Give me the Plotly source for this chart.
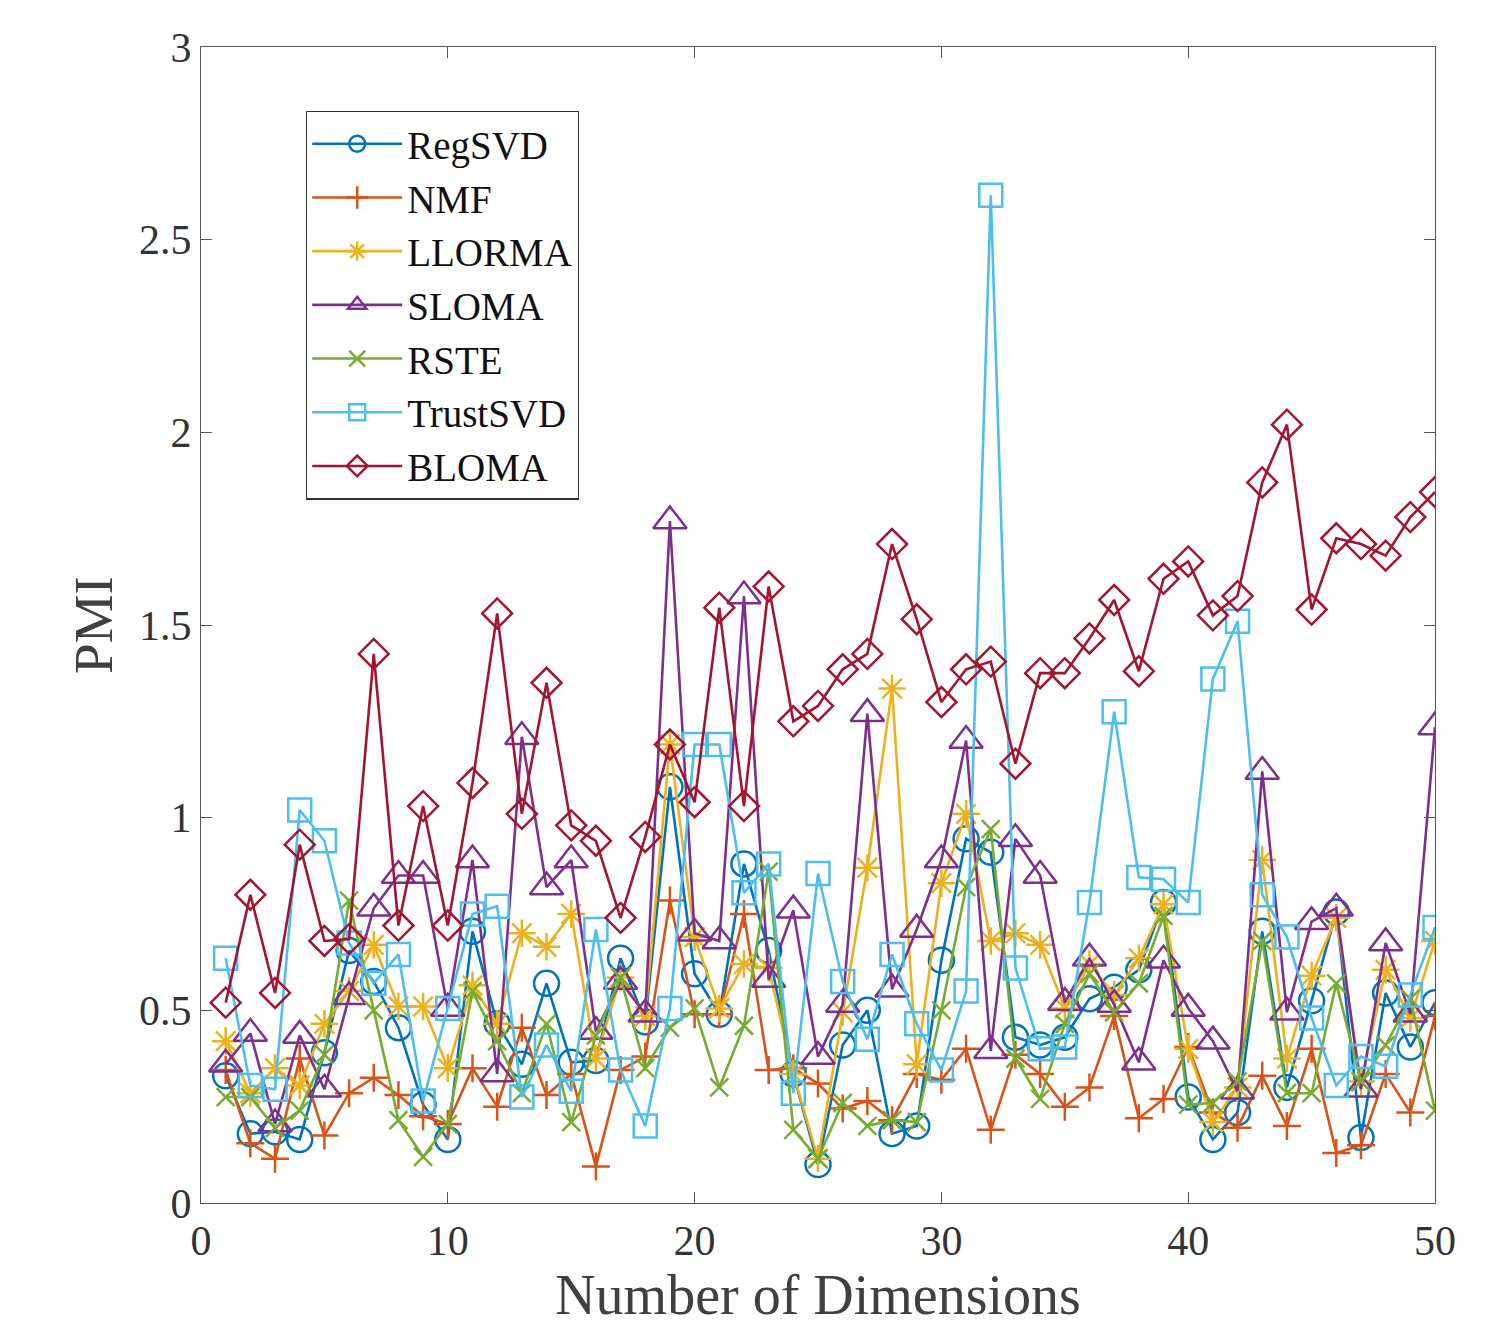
import plotly.graph_objects as go

dims = list(range(1, 51))

regsvd = [0.33,0.18,0.185,0.165,0.39,0.655,0.575,0.455,0.255,0.165,0.705,0.465,0.36,0.57,0.365,0.37,0.635,0.47,1.08,0.595,
          0.49,0.88,0.655,0.335,0.10,0.41,0.50,0.18,0.20,0.63,0.945,0.91,0.43,0.41,0.43,0.53,0.56,0.605,0.78,0.275,
          0.165,0.235,0.705,0.30,0.525,0.755,0.17,0.545,0.405,0.52]
nmf = [0.345,0.155,0.115,0.375,0.175,0.285,0.325,0.28,0.225,0.205,0.35,0.25,0.455,0.28,0.335,0.095,0.345,0.38,0.785,0.49,
       0.49,0.75,0.345,0.35,0.31,0.245,0.265,0.215,0.335,0.32,0.40,0.19,0.385,0.335,0.25,0.30,0.485,0.22,0.27,0.405,
       0.235,0.195,0.33,0.20,0.40,0.13,0.15,0.335,0.235,0.485]
llorma = [0.42,0.285,0.35,0.305,0.465,0.55,0.67,0.51,0.51,0.35,0.565,0.465,0.70,0.665,0.75,0.375,0.585,0.485,1.19,0.69,
          0.505,0.62,0.61,0.335,0.115,0.495,0.87,1.335,0.36,0.83,1.01,0.68,0.70,0.67,0.505,0.62,0.54,0.635,0.775,0.40,
          0.21,0.30,0.89,0.375,0.59,0.74,0.315,0.605,0.48,0.68]
sloma = [0.36,0.44,0.205,0.435,0.295,0.535,0.765,0.85,0.85,0.505,0.89,0.335,1.21,0.82,0.89,0.445,0.575,0.49,1.77,0.70,
         0.68,1.575,0.58,0.76,0.38,0.515,1.27,0.555,0.71,0.89,1.20,0.395,0.945,0.85,0.52,0.635,0.515,0.365,0.63,0.505,
         0.42,0.29,1.12,0.495,0.73,0.765,0.295,0.675,0.49,1.235]
rste = [0.275,0.275,0.195,0.24,0.385,0.785,0.50,0.215,0.12,0.205,0.55,0.42,0.285,0.465,0.21,0.435,0.585,0.35,0.455,0.505,
        0.30,0.46,0.86,0.19,0.115,0.26,0.20,0.215,0.21,0.50,0.82,0.97,0.375,0.27,0.465,0.595,0.495,0.57,0.745,0.255,
        0.26,0.315,0.68,0.285,0.285,0.57,0.315,0.41,0.53,0.24]
trustsvd = [0.635,0.305,0.295,1.02,0.94,0.675,0.57,0.645,0.265,0.505,0.75,0.77,0.275,0.41,0.29,0.71,0.345,0.20,0.505,1.19,
            1.19,0.805,0.88,0.285,0.855,0.575,0.425,0.645,0.465,0.345,0.55,2.615,0.61,0.40,0.405,0.78,1.275,0.845,0.84,0.78,
            1.36,1.51,0.80,0.69,0.48,0.305,0.38,0.355,0.54,0.715]
bloma = [0.52,0.80,0.545,0.93,0.68,0.685,1.425,0.72,1.03,0.72,1.09,1.53,1.01,1.35,0.98,0.94,0.74,0.95,1.19,1.04,
         1.545,1.03,1.60,1.25,1.29,1.385,1.425,1.71,1.515,1.30,1.385,1.405,1.14,1.375,1.375,1.465,1.565,1.38,1.62,1.665,
         1.525,1.575,1.87,2.02,1.54,1.725,1.71,1.68,1.78,1.845]

series_names = ["RegSVD", "NMF", "LLORMA", "SLOMA", "RSTE", "TrustSVD", "BLOMA"]
series_values = [regsvd, nmf, llorma, sloma, rste, trustsvd, bloma]
colors = ["#0072BD", "#D95319", "#EDB120", "#7E2F8E", "#77AC30", "#4DBEEE", "#A2142F"]
symbols = ["circle-open", "cross-thin-open", "asterisk-open", "triangle-up-open", "x-thin-open", "square-open", "diamond-open"]
sizes = [25, 20, 23, 29, 18, 23, 23]

fig = go.Figure()
for name, vals, c, s, sz in zip(series_names, series_values, colors, symbols, sizes):
    fig.add_trace(go.Scatter(
        x=dims, y=vals, name=name, mode="lines+markers",
        line=dict(color=c, width=2.6),
        marker=dict(symbol=s, size=sz, color=c, line=dict(color=c, width=2.5)),
    ))

axis_common = dict(
    showline=True, linecolor="#555555", linewidth=1.3, mirror="allticks",
    ticks="inside", ticklen=11, tickwidth=1.3, tickcolor="#555555",
    showgrid=False, zeroline=False,
    tickfont=dict(family="Liberation Serif", size=42, color="#333333"),
)

fig.update_xaxes(range=[0, 50], dtick=10, tick0=0,
                 title=dict(text="Number of Dimensions", font=dict(family="Liberation Serif", size=56, color="#404040"), standoff=8),
                 **axis_common)
fig.update_yaxes(range=[0, 3], dtick=0.5, tick0=0,
                 title=dict(text="PMI", font=dict(family="Liberation Serif", size=55, color="#404040"), standoff=8),
                 **axis_common)

fig.update_layout(
    width=1493, height=1324,
    margin=dict(l=193, r=66, t=39, b=129),
    paper_bgcolor="white", plot_bgcolor="white",
    showlegend=True,
    legend=dict(
        x=0.085, y=0.945, xanchor="left", yanchor="top",
        bgcolor="white", bordercolor="#333333", borderwidth=1.3,
        font=dict(family="Liberation Serif", size=39, color="#111111"),
        itemwidth=90, tracegroupgap=0,
    ),
)

fig.write_html("out.html")
